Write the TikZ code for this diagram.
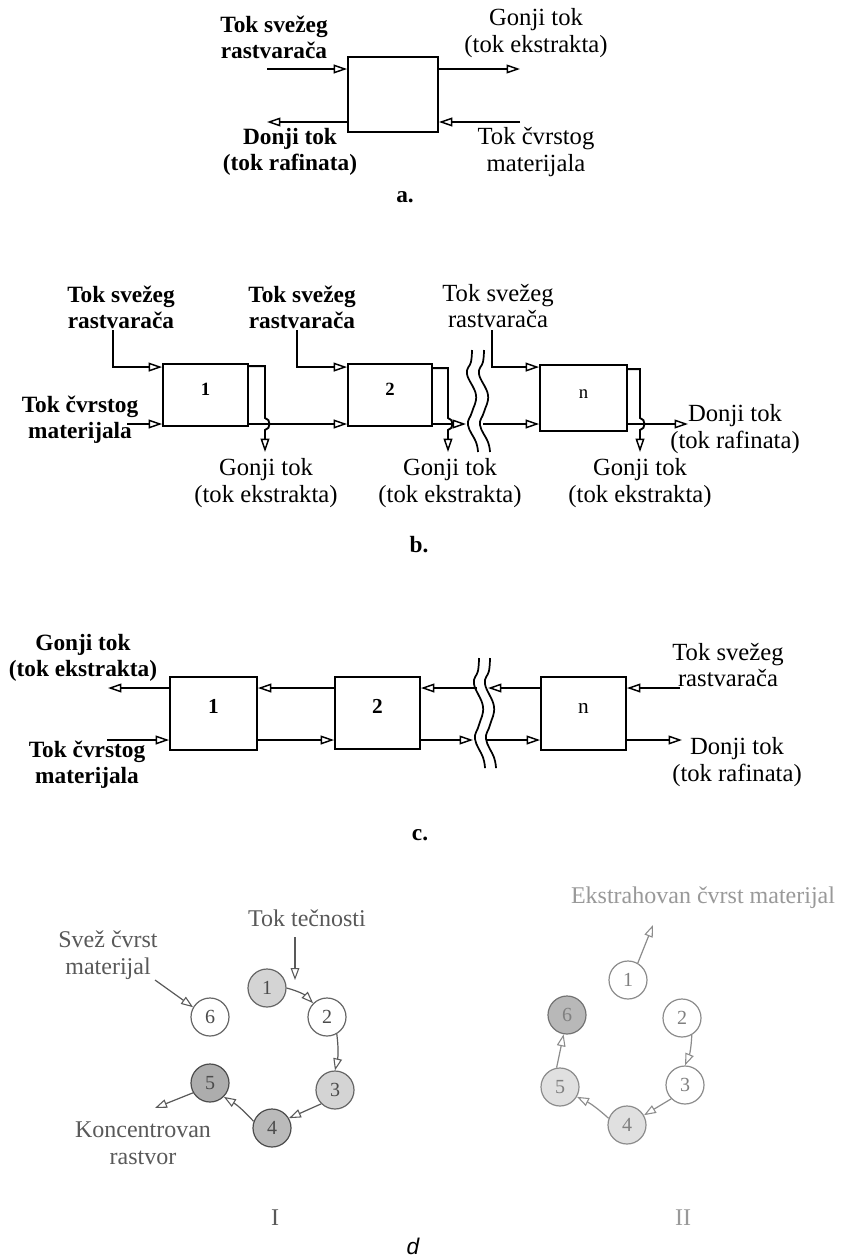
\documentclass[tikz,border=0pt]{standalone}
\usepackage{fontspec}
\setmainfont{Liberation Serif}[BoldFont={Liberation Serif Bold},ItalicFont={Liberation Serif Italic}]
\newfontfamily\dsans{Liberation Sans}
\usetikzlibrary{arrows.meta,fit,calc}
\newcommand\bsz{\fontsize{17.5}{19.5}\selectfont\bfseries}
\newcommand\rsz{\fontsize{18.5}{20}\selectfont}
\newcommand\mybrk[2]{\draw[line width=1.3pt,shift={(#1)},yscale=#2] plot[smooth,tension=0.7] coordinates {(2,0) (1,12) (-3,24) (6,45) (2,62) (-2,75) (6,92) (8,102)};}
\begin{document}
\begin{tikzpicture}[x=0.75pt,y=-0.75pt,
  ln/.style={line width=1.4pt},
  arr/.style={line width=1.4pt,-{Triangle[open,length=10pt,width=6.6pt,line width=1.1pt]}},
  box/.style={draw,line width=1.4pt,inner sep=0pt},
  lb/.style={font=\bsz,align=center,inner sep=0pt},
  lr/.style={font=\rsz,align=center,inner sep=0pt},
  dcirc/.style={circle,draw=black!60,line width=0.9pt,minimum size=28.5pt,inner sep=0pt,font=\fontsize{15}{15}\selectfont,text=black!70},
  ecirc/.style={circle,draw=black!45,line width=0.9pt,minimum size=28.5pt,inner sep=0pt,font=\fontsize{15}{15}\selectfont,text=black!50},
  darr/.style={draw=black!65,line width=0.9pt,-{Triangle[open,length=9pt,width=6.5pt,line width=0.8pt]}},
  earr/.style={draw=black!45,line width=0.9pt,-{Triangle[open,length=9pt,width=6.5pt,line width=0.8pt]}},
  dtxt/.style={font=\fontsize{18}{20}\selectfont,text=black!65,align=center,inner sep=0pt},
  etxt/.style={font=\fontsize{18}{20}\selectfont,text=black!40,align=center,inner sep=0pt}
]
\fill[white] (0,0) rectangle (843,1257);
\useasboundingbox (0,0) rectangle (843,1257);

% ---------------- part a ----------------
\node[box,fit={(348,57)(438,132)}] (A) {};
\coordinate (a1) at (267,69);
\coordinate (a2) at (520,69);
\coordinate (a3) at (267,122);
\coordinate (a4) at (520,122);
\draw[arr] (a1) -- (A.west|-a1);
\draw[arr] (A.east|-a2) -- (a2);
\draw[arr] (A.west|-a3) -- (a3);
\draw[arr] (a4) -- (A.east|-a4);
\node[lb] (la1) at (274,37) {Tok svežeg\\rastvarača};
\node[lr] (la2) at (536,33) {Gonji tok\\(tok ekstrakta)};
\node[lb] (la3) at (290,152) {Donji tok\\(tok rafinata)};
\node[lr] (la4) at (536,152) {Tok čvrstog\\materijala};
\node[lb] (capa) at (405,197) {a.};

% ---------------- part b ----------------
\node[box,fit={(163,364)(248,426)},font=\fontsize{14}{14}\selectfont\bfseries] (B1) {1};
\node[box,fit={(348,364)(432,426)},font=\fontsize{14}{14}\selectfont\bfseries] (B2) {2};
\node[box,fit={(540,365)(627,431)},font=\fontsize{14}{14}\selectfont] (Bn) {n};
\coordinate (b1s) at (113,330);
\coordinate (b2s) at (297,330);
\coordinate (bns) at (492,330);
\draw[arr] (b1s) |- ($(B1.north west)+(0,4)$);
\draw[arr] (b2s) |- ($(B2.north west)+(0,4)$);
\draw[arr] (bns) |- ($(Bn.north west)+(0,3)$);
\coordinate (bs) at (127,424);
\coordinate (b2e) at (466,424);
\coordinate (b3s) at (483,424);
\coordinate (bout) at (688,424);
\draw[arr] (bs) -- (B1.west|-bs);
\draw[arr] (B1.east|-bs) -- (B2.west|-bs);
\draw[arr] (B2.east|-bs) -- (b2e);
\draw[arr] (b3s) -- (Bn.west|-bs);
\draw[arr] (Bn.east|-bs) -- (bout);
% side outlets (extract)
\coordinate (e1) at (265,452);
\coordinate (e2) at (448,452);
\coordinate (en) at (640,452);
\draw[arr] ($(B1.north east)+(0,3)$) -| (265,418) .. controls (271,419) and (271,429) .. (265,430) -- (e1);
\draw[arr] ($(B2.north east)+(0,5)$) -| (448,418) .. controls (454,419) and (454,429) .. (448,430) -- (e2);
\draw[arr] ($(Bn.north east)+(0,5)$) -| (640,418) .. controls (646,419) and (646,429) .. (640,430) -- (en);
\mybrk{470,350}{1}
\mybrk{482,350}{1}
\node[lb] (lb1) at (121,307) {Tok svežeg\\rastvarača};
\node[lb] (lb2) at (302,307) {Tok svežeg\\rastvarača};
\node[lr] (lb3) at (498,306) {Tok svežeg\\rastvarača};
\node[lb] (lb4) at (80,420) {Tok čvrstog\\materijala};
\node[lr] (lb5) at (266,483) {Gonji tok\\(tok ekstrakta)};
\node[lr] (lb6) at (450,483) {Gonji tok\\(tok ekstrakta)};
\node[lr] (lb7) at (640,483) {Gonji tok\\(tok ekstrakta)};
\node[lr] (lb8) at (735,429) {Donji tok\\(tok rafinata)};
\node[lb] (capb) at (419,545) {b.};

% ---------------- part c ----------------
\node[box,fit={(170,677)(257,750)},font=\fontsize{16}{16}\selectfont\bfseries] (C1) {1};
\node[box,fit={(335,677)(420,749)},font=\fontsize{16}{16}\selectfont\bfseries] (C2) {2};
\node[box,fit={(541,677)(626,750)},font=\fontsize{16}{16}\selectfont] (Cn) {n};
\coordinate (c1o) at (108,688);
\coordinate (cb1) at (477,688);
\coordinate (cb2) at (488,688);
\coordinate (cin) at (680,688);
\draw[arr] (C1.west|-c1o) -- (c1o);
\draw[arr] (C2.west|-c1o) -- (C1.east|-c1o);
\draw[arr] (cb1) -- (C2.east|-c1o);
\draw[arr] (Cn.west|-c1o) -- (cb2);
\draw[arr] (cin) -- (Cn.east|-cin);
\coordinate (cs) at (107,740);
\coordinate (cb3) at (473,740);
\coordinate (cb4) at (487,740);
\coordinate (cout) at (682,740);
\draw[arr] (cs) -- (C1.west|-cs);
\draw[arr] (C1.east|-cs) -- (C2.west|-cs);
\draw[arr] (C2.east|-cs) -- (cb3);
\draw[arr] (cb4) -- (Cn.west|-cs);
\draw[arr] (Cn.east|-cs) -- (cout);
\mybrk{477,658}{1.08}
\mybrk{488,658}{1.08}
\node[lb] (lc1) at (83,658) {Gonji tok\\(tok ekstrakta)};
\node[lb] (lc2) at (87,765) {Tok čvrstog\\materijala};
\node[lr] (lc3) at (728,665) {Tok svežeg\\rastvarača};
\node[lr] (lc4) at (737,762) {Donji tok\\(tok rafinata)};
\node[lb] (capc) at (420,835) {c.};

% ---------------- part d, I ----------------
\node[dcirc,fill=black!17] (I1) at (267,988) {1};
\node[dcirc,fill=white] (I2) at (327,1017) {2};
\node[dcirc,fill=black!17] (I3) at (335,1090) {3};
\node[dcirc,fill=black!27,draw=black!70] (I4) at (272,1128) {4};
\node[dcirc,fill=black!32,draw=black!70] (I5) at (210,1083) {5};
\node[dcirc,fill=white] (I6) at (210,1017) {6};
\draw[darr] (I1.east) to[bend left=15] (I2.north west);
\draw[darr] (I2.-60) to[bend left=10] (I3.north);
\draw[darr] (I3.-135) -- (I4.30);
\draw[darr] (I4.160) to[bend right=8] (I5.-45);
\coordinate (dout) at (155,1108);
\draw[darr] (I5.-150) -- (dout);
\coordinate (dsv) at (155,980);
\draw[darr] (dsv) -- (I6.150);
\coordinate (dtt) at (295,937);
\coordinate (dtte) at (295,980);
\draw[darr] (dtt) -- (dtte);
\node[dtxt] (ld1) at (307,918) {Tok tečnosti};
\node[dtxt] (ld2) at (108,955) {Svež čvrst\\materijal};
\node[dtxt] (ld3) at (143,1143) {Koncentrovan\\rastvor};
\node[dtxt] (ldI) at (275,1218) {I};

% ---------------- part d, II ----------------
\node[ecirc,fill=white] (J1) at (628,980) {1};
\node[ecirc,fill=white] (J2) at (682,1018) {2};
\node[ecirc,fill=white] (J3) at (685,1085) {3};
\node[ecirc,fill=black!12] (J4) at (627,1125) {4};
\node[ecirc,fill=black!12] (J5) at (560,1087) {5};
\node[ecirc,fill=black!28,draw=black!55] (J6) at (567,1015) {6};
\coordinate (jout) at (653,925);
\draw[earr] (J1.60) -- (jout);
\draw[earr] (J2.-60) to[bend left=10] (J3.north);
\draw[earr] (J3.-135) -- (J4.30);
\draw[earr] (J4.160) to[bend right=8] (J5.-30);
\draw[earr] (J5.100) -- (J6.-100);
\node[etxt] (le1) at (703,898) {Ekstrahovan čvrst materijal};
\node[etxt] (leII) at (683,1218) {II};

\node[font=\dsans\itshape\fontsize{17}{17}\selectfont,inner sep=0pt] (capd) at (413,1246) {d};
\end{tikzpicture}
\end{document}
